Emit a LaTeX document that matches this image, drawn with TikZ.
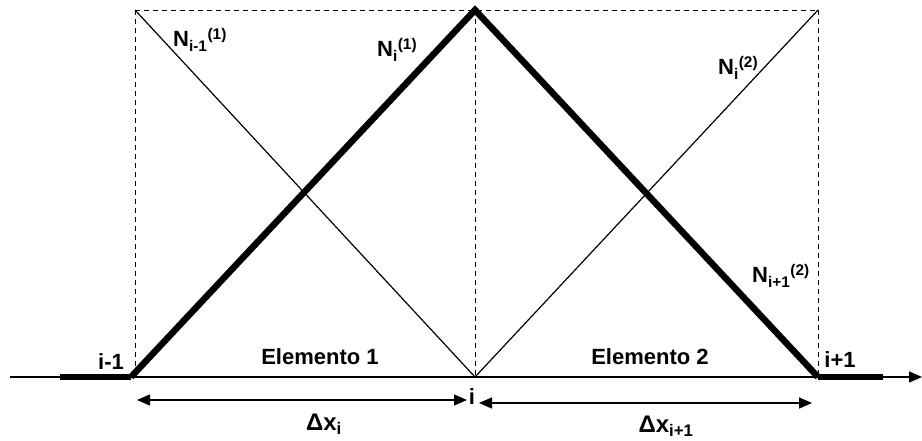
\documentclass[tikz,border=0pt]{standalone}
\usepackage{fontspec}
\setmainfont{Liberation Sans}
\usetikzlibrary{arrows.meta}
\tikzset{
  dashline/.style={dashed, line width=0.9pt, dash pattern=on 5pt off 4pt},
  thinline/.style={line width=1.2pt},
  thickline/.style={line width=6.5pt, line join=miter, miter limit=20},
  axisline/.style={line width=1.4pt},
  dimline/.style={line width=1.4pt, {Triangle[length=13pt,width=11pt]}-{Triangle[length=13pt,width=11pt]}},
  lbl/.style={inner sep=0pt, font=\bfseries\fontsize{22}{24}\selectfont},
  nlbl/.style={inner sep=0pt, anchor=base west, font=\bfseries\fontsize{22}{24}\selectfont},
  dxlbl/.style={inner sep=0pt, font=\bfseries\fontsize{24}{26}\selectfont},
}
\begin{document}
\begin{tikzpicture}[x=1pt,y=-1pt]
\useasboundingbox (0,0) rectangle (922,441);
% key points
\coordinate (TL) at (135,10);
\coordinate (T) at (475,10);
\coordinate (TR) at (818,10);
\coordinate (BL) at (135,377);
\coordinate (B) at (475,377);
\coordinate (BR) at (818,377);
\coordinate (AS) at (10,377);
\coordinate (AE) at (922,377);
\coordinate (LS) at (60,377);
\coordinate (LE) at (131,377);
\coordinate (RE) at (883,377);
\coordinate (D1S) at (137,400);
\coordinate (D1E) at (467,400);
\coordinate (D2S) at (479,403);
\coordinate (D2E) at (812,403);
% dashed frame
\draw[dashline] (TL) -- (TR);
\draw[dashline] (TL) -- (BL);
\draw[dashline] (T) -- (B);
\draw[dashline] (TR) -- (BR);
% axis
\draw[axisline, -{Triangle[length=13pt,width=11pt]}] (AS) -- (AE);
% thin shape functions
\draw[thinline] (TL) -- (B) -- (TR);
% thick hat function
\draw[line width=6.5pt] (LS) -- (LE);
\draw[line width=6.5pt] (BR) -- (RE);
\draw[thickline] (LE) -- (T) -- (BR);
% dimension arrows
\draw[dimline] (D1S) -- (D1E);
\draw[dimline] (D2S) -- (D2E);
% labels
\node[lbl] (lim1) at (111,362) {i-1};
\node[lbl] (el1) at (320,357) {Elemento 1};
\node[lbl] (el2) at (650,357) {Elemento 2};
\node[lbl] (lip1) at (840,360) {i+1};
\node[lbl] (li) at (472,397) {i};
\node[dxlbl] (dx1) at (324,424) {Δx\textsubscript{i}};
\node[dxlbl] (dx2) at (666,426) {Δx\textsubscript{i+1}};
\node[nlbl] (n1) at (173,47) {N\textsubscript{i-1}\textsuperscript{(1)}};
\node[nlbl] (n2) at (377,57) {N\textsubscript{i}\textsuperscript{(1)}};
\node[nlbl] (n3) at (718,75) {N\textsubscript{i}\textsuperscript{(2)}};
\node[nlbl] (n4) at (752,283) {N\textsubscript{i+1}\textsuperscript{(2)}};
\end{tikzpicture}
\end{document}
